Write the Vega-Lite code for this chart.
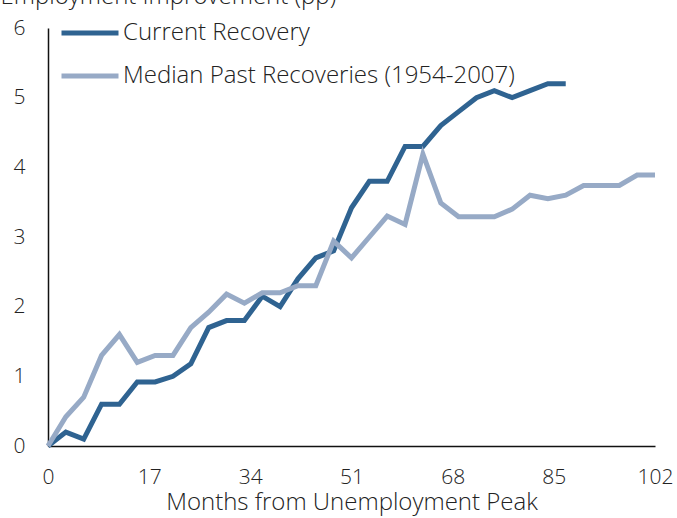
{
  "$schema": "https://vega.github.io/schema/vega-lite/v6.json",
  "width": 607,
  "height": 418,
  "autosize": {"type": "none"},
  "padding": {"left": 48, "top": 28, "right": 22, "bottom": 72},
  "background": "white",
  "config": {
    "view": {"stroke": null},
    "font": "Open Sans",
    "axis": {
      "labelFont": "Open Sans",
      "titleFont": "Open Sans",
      "labelFontWeight": 300,
      "titleFontWeight": 300,
      "labelFontSize": 21,
      "titleFontSize": 24,
      "labelColor": "#222222",
      "titleColor": "#222222",
      "domainColor": "#111111",
      "domainWidth": 1.5,
      "ticks": false,
      "grid": false
    },
    "legend": {
      "labelFont": "Open Sans",
      "labelFontWeight": 300,
      "labelFontSize": 24,
      "labelColor": "#222222",
      "labelLimit": 0
    }
  },
  "data": {
    "values": [
      {"month": 0, "value": 0, "series": "Current Recovery"},
      {"month": 3, "value": 0.2, "series": "Current Recovery"},
      {"month": 6, "value": 0.1, "series": "Current Recovery"},
      {"month": 9, "value": 0.6, "series": "Current Recovery"},
      {"month": 12, "value": 0.6, "series": "Current Recovery"},
      {"month": 15, "value": 0.92, "series": "Current Recovery"},
      {"month": 18, "value": 0.92, "series": "Current Recovery"},
      {"month": 21, "value": 1.0, "series": "Current Recovery"},
      {"month": 24, "value": 1.18, "series": "Current Recovery"},
      {"month": 27, "value": 1.7, "series": "Current Recovery"},
      {"month": 30, "value": 1.8, "series": "Current Recovery"},
      {"month": 33, "value": 1.8, "series": "Current Recovery"},
      {"month": 36, "value": 2.15, "series": "Current Recovery"},
      {"month": 39, "value": 2.0, "series": "Current Recovery"},
      {"month": 42, "value": 2.4, "series": "Current Recovery"},
      {"month": 45, "value": 2.7, "series": "Current Recovery"},
      {"month": 48, "value": 2.8, "series": "Current Recovery"},
      {"month": 51, "value": 3.42, "series": "Current Recovery"},
      {"month": 54, "value": 3.8, "series": "Current Recovery"},
      {"month": 57, "value": 3.8, "series": "Current Recovery"},
      {"month": 60, "value": 4.3, "series": "Current Recovery"},
      {"month": 63, "value": 4.3, "series": "Current Recovery"},
      {"month": 66, "value": 4.6, "series": "Current Recovery"},
      {"month": 69, "value": 4.8, "series": "Current Recovery"},
      {"month": 72, "value": 5.0, "series": "Current Recovery"},
      {"month": 75, "value": 5.1, "series": "Current Recovery"},
      {"month": 78, "value": 5.0, "series": "Current Recovery"},
      {"month": 81, "value": 5.1, "series": "Current Recovery"},
      {"month": 84, "value": 5.2, "series": "Current Recovery"},
      {"month": 87, "value": 5.2, "series": "Current Recovery"},
      {"month": 0, "value": 0, "series": "Median Past Recoveries (1954-2007)"},
      {"month": 3, "value": 0.42, "series": "Median Past Recoveries (1954-2007)"},
      {"month": 6, "value": 0.7, "series": "Median Past Recoveries (1954-2007)"},
      {"month": 9, "value": 1.3, "series": "Median Past Recoveries (1954-2007)"},
      {"month": 12, "value": 1.6, "series": "Median Past Recoveries (1954-2007)"},
      {"month": 15, "value": 1.2, "series": "Median Past Recoveries (1954-2007)"},
      {"month": 18, "value": 1.3, "series": "Median Past Recoveries (1954-2007)"},
      {"month": 21, "value": 1.3, "series": "Median Past Recoveries (1954-2007)"},
      {"month": 24, "value": 1.7, "series": "Median Past Recoveries (1954-2007)"},
      {"month": 27, "value": 1.92, "series": "Median Past Recoveries (1954-2007)"},
      {"month": 30, "value": 2.18, "series": "Median Past Recoveries (1954-2007)"},
      {"month": 33, "value": 2.05, "series": "Median Past Recoveries (1954-2007)"},
      {"month": 36, "value": 2.2, "series": "Median Past Recoveries (1954-2007)"},
      {"month": 39, "value": 2.2, "series": "Median Past Recoveries (1954-2007)"},
      {"month": 42, "value": 2.3, "series": "Median Past Recoveries (1954-2007)"},
      {"month": 45, "value": 2.3, "series": "Median Past Recoveries (1954-2007)"},
      {"month": 48, "value": 2.94, "series": "Median Past Recoveries (1954-2007)"},
      {"month": 51, "value": 2.7, "series": "Median Past Recoveries (1954-2007)"},
      {"month": 54, "value": 3.0, "series": "Median Past Recoveries (1954-2007)"},
      {"month": 57, "value": 3.3, "series": "Median Past Recoveries (1954-2007)"},
      {"month": 60, "value": 3.18, "series": "Median Past Recoveries (1954-2007)"},
      {"month": 63, "value": 4.19, "series": "Median Past Recoveries (1954-2007)"},
      {"month": 66, "value": 3.49, "series": "Median Past Recoveries (1954-2007)"},
      {"month": 69, "value": 3.29, "series": "Median Past Recoveries (1954-2007)"},
      {"month": 72, "value": 3.29, "series": "Median Past Recoveries (1954-2007)"},
      {"month": 75, "value": 3.29, "series": "Median Past Recoveries (1954-2007)"},
      {"month": 78, "value": 3.4, "series": "Median Past Recoveries (1954-2007)"},
      {"month": 81, "value": 3.6, "series": "Median Past Recoveries (1954-2007)"},
      {"month": 84, "value": 3.55, "series": "Median Past Recoveries (1954-2007)"},
      {"month": 87, "value": 3.6, "series": "Median Past Recoveries (1954-2007)"},
      {"month": 90, "value": 3.74, "series": "Median Past Recoveries (1954-2007)"},
      {"month": 93, "value": 3.74, "series": "Median Past Recoveries (1954-2007)"},
      {"month": 96, "value": 3.74, "series": "Median Past Recoveries (1954-2007)"},
      {"month": 99, "value": 3.89, "series": "Median Past Recoveries (1954-2007)"},
      {"month": 102, "value": 3.89, "series": "Median Past Recoveries (1954-2007)"}
    ]
  },
  "mark": {"type": "line", "strokeWidth": 5, "strokeJoin": "miter", "strokeCap": "butt"},
  "encoding": {
    "x": {
      "field": "month",
      "type": "quantitative",
      "scale": {"domain": [0, 102], "nice": false, "zero": false},
      "axis": {
        "values": [0, 17, 34, 51, 68, 85, 102],
        "title": "Months from Unemployment Peak",
        "labelPadding": 20,
        "titlePadding": 3,
        "labelFlush": false
      }
    },
    "y": {
      "field": "value",
      "type": "quantitative",
      "scale": {"domain": [0, 6], "nice": false},
      "axis": {
        "values": [0, 1, 2, 3, 4, 5, 6],
        "title": "Employment Improvement (pp)",
        "titleFontSize": 24,
        "titleAngle": 0,
        "titleAlign": "left",
        "titleBaseline": "alphabetic",
        "titleX": -48,
        "titleY": -25,
        "labelPadding": 23,
        "labelFlush": false
      }
    },
    "color": {
      "field": "series",
      "type": "nominal",
      "scale": {
        "domain": ["Current Recovery", "Median Past Recoveries (1954-2007)"],
        "range": ["#2F6391", "#97AAC6"]
      },
      "legend": {
        "title": null,
        "orient": "none",
        "legendX": 11,
        "legendY": -26,
        "symbolType": "stroke",
        "symbolSize": 3249,
        "symbolStrokeWidth": 5,
        "labelOffset": 2,
        "rowPadding": -1
      }
    }
  }
}
